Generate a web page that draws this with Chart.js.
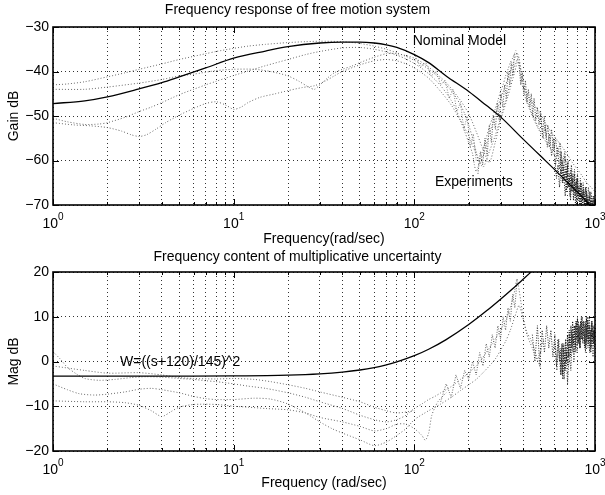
<!DOCTYPE html>
<html><head><meta charset="utf-8">
<script src="https://cdn.jsdelivr.net/npm/chart.js@4.4.1/dist/chart.umd.min.js"></script>
<style>
html,body{margin:0;padding:0;background:#fff;overflow:hidden;width:605px;height:495px}
canvas{position:absolute;left:0}
#top{top:0}
#bot{top:248px}
</style></head><body>
<canvas id="top" width="605" height="248"></canvas>
<canvas id="bot" width="605" height="247"></canvas>
<script>
// ---------- axis ticks ----------
const xTickValues = [1,2,3,4,5,6,7,8,9,10,20,30,40,50,60,70,80,90,100,200,300,400,500,600,700,800,900,1000];
const decadeValues = [1,10,100,1000];
const decadeExponents = ['0','1','2','3'];

// ---------- top: nominal model ----------
const nomFreq = [1,1.5,2,3,4,5,7,10,15,20,30,40,50,60,70,80,100,120,150,200,250,300,400,500,600,700,800,900,1000];
const nomGain = [-47.2,-46.6,-45.7,-43.9,-42.5,-41.2,-39.2,-37.0,-35.4,-34.4,-33.6,-33.4,-33.4,-33.6,-34.0,-34.6,-36.2,-38.0,-41.0,-44.5,-47.6,-50.2,-55.2,-59.0,-62.1,-64.8,-67.1,-69.2,-71.0];

// ---------- top: experiments ----------
const exp1Freq = [1,1.2,1.5,2,2.5,3,4,5,6,7,8,10,12,15,20,25,30,40,50,60,70,80,90,100,110,120,130,140,150,160,170,180,190,200,210,220,230,240,250,260,270,280,290,300,310,320,330,340,350,360,370,380,390,400,420,440,460,480,500,520,550,580,620,660,700,750,800,850,900,950,1000];
const exp1Gain = [-43.0,-42.8,-42.3,-41.2,-40.3,-39.5,-38.3,-37.3,-36.6,-36.0,-35.5,-34.8,-34.3,-33.9,-33.5,-33.3,-33.2,-33.3,-33.7,-34.3,-35.0,-35.8,-36.6,-37.5,-38.4,-39.5,-40.6,-41.8,-43.0,-44.3,-45.8,-47.5,-49.5,-52.0,-55.0,-58.0,-60.5,-59.0,-56.5,-54.0,-52.0,-50.0,-48.0,-46.0,-44.5,-43.0,-41.5,-40.0,-38.5,-37.0,-35.8,-37.0,-40.0,-42.5,-45.0,-46.5,-47.5,-48.5,-49.5,-51.0,-52.5,-54.0,-55.5,-57.0,-58.5,-60.5,-62.0,-63.5,-65.0,-66.0,-67.0];
const exp2Freq = [1,1.2,1.5,1.8,2,2.5,3,3.5,4,5,6,7,8,9,10,12,15,20,25,30,40,50,60,70,80,90,100,110,120,130,140,150,160,170,180,190,200,210,215,220,225,230,240,250,260,270,280,290,300,310,320,330,340,350,360,365,380,400,420,450,480,520,560,600,650,700,800,900,1000];
const exp2Gain = [-50.5,-51.3,-51.9,-51.8,-51.5,-50.3,-49.0,-48.0,-47.0,-45.2,-44.0,-43.0,-42.2,-41.5,-40.9,-39.9,-38.7,-37.3,-36.2,-35.5,-34.7,-34.6,-35.0,-35.6,-36.3,-37.2,-38.2,-39.3,-40.5,-41.8,-43.2,-44.8,-46.5,-48.5,-51.0,-53.5,-56.0,-58.5,-61.0,-62.5,-61.5,-60.0,-57.5,-55.0,-52.5,-50.5,-48.5,-46.5,-44.5,-43.0,-41.0,-39.5,-38.0,-37.0,-35.8,-35.3,-39.0,-44.0,-47.0,-50.0,-52.5,-55.0,-57.0,-59.0,-61.0,-63.0,-65.5,-67.5,-69.0];
const exp3Freq = [1,1.3,1.6,2,2.4,2.7,3,3.3,3.7,4.2,5,6,7,8,9,10,11,12,14,17,20,24,28,32,36,40,50,60,70,80,90,100,120,140,160,180,200,220,240,260,280,300,320,340,360,380];
const exp3Gain = [-51.5,-52.0,-52.2,-52.6,-53.4,-54.2,-54.6,-54.2,-53.0,-51.5,-49.8,-48.3,-47.2,-46.8,-47.5,-48.5,-48.0,-47.0,-45.8,-45.0,-44.3,-43.6,-43.2,-42.2,-41.0,-40.0,-38.5,-37.6,-37.3,-37.6,-38.3,-39.2,-41.5,-44.5,-47.5,-51.0,-54.5,-58.5,-61.5,-58.0,-54.5,-50.5,-46.5,-42.5,-38.5,-36.5];
const exp4Freq = [1,1.5,2,3,4,5,6,8,10,13,16,20,23,26,28,30,33,36,40,45,50,60,70,80,100,120,150,180,200,220,240,260,280,300,330,360,375,390,410,430,460,500];
const exp4Gain = [-44.0,-44.0,-43.5,-42.6,-41.8,-41.0,-40.6,-39.8,-39.5,-39.5,-40.0,-41.0,-42.2,-43.5,-44.0,-43.0,-41.5,-40.3,-39.5,-38.8,-38.0,-36.8,-36.0,-36.0,-37.0,-39.0,-42.5,-46.5,-49.5,-53.5,-57.5,-60.5,-56.0,-51.0,-45.5,-40.0,-37.5,-40.0,-44.5,-47.5,-50.5,-53.5];
const bandDownFreq = [100,108,116,124,132,140,148,156,164,172,180,188,196,204,212,220];
const bandDownGain = [-36,-39,-38,-41,-40,-43,-42,-46,-44,-49,-47,-53,-50,-57,-54,-60];
const bandUpFreq = [225,232,239,246,253,260,267,274,281,288,295,302,309,316,323,330,337,344,351,358];
const bandUpGain = [-63,-58,-61,-55,-59,-52,-56,-50,-53,-47,-51,-45,-48,-43,-46,-40,-43,-38,-41,-36];
const branchFreq = [380,388,396,404,412,420,428,436,444,452,460,470,480,490,500,512,524,536,548,560,575,590,605,620,640,660,680,700];
const branchGain = [-38,-43,-40,-45,-42,-47,-44,-48,-45,-50,-46,-51,-48,-52,-49,-54,-50,-55,-52,-57,-53,-58,-55,-59,-56,-61,-58,-62];
const cloudAFreq = [500,515,530,545,560,575,590,605,620,635,650,665,680,695,710,725,740,755,770,785,800,815,830,845,860,875,890,905,920,935,950,965,980,995];
const cloudAGain = [-50,-55,-52,-57,-54,-59,-55,-61,-57,-62,-58,-63,-59,-64,-60,-66,-61,-65,-62,-67,-63,-68,-64,-69,-65,-68,-66,-70,-66,-69,-67,-70,-68,-70];
const cloudBFreq = [600,612,624,636,648,660,672,684,696,708,720,732,744,756,768,780,792,804,816,828,840,852,864,876,888,900,912,924,936,948,960,972,984,996];
const cloudBGain = [-60,-64,-61,-66,-62,-65,-63,-68,-62,-66,-64,-69,-63,-67,-65,-70,-64,-68,-66,-70,-65,-69,-67,-70,-66,-70,-68,-70,-67,-70,-69,-70,-68,-70];
const cloudGFreq = [640,648,656,664,672,680,688,696,704,712,720,728,736,744,752,760,768,776,784,792,800,808,816,824,832,840,848,856,864,872,880,888,896,904,912,920,928,936,944,952,960,968,976,984,992,1000];
const cloudGGain = [-58,-63,-60,-65,-61,-64,-62,-67,-61,-66,-63,-68,-62,-67,-64,-69,-63,-68,-65,-70,-64,-69,-66,-70,-65,-70,-67,-70,-66,-70,-68,-70,-67,-70,-69,-70,-68,-70,-69,-70,-68,-70,-69,-70,-69,-70];

// ---------- bottom: weight W ----------
const wFreq = [1,5,10,20,30,40,50,60,70,80,100,120,150,200,250,300,350,400,450];
const wMag = [-3.29,-3.27,-3.23,-3.05,-2.76,-2.37,-1.90,-1.35,-0.74,-0.08,1.29,2.73,4.89,8.26,11.26,13.92,16.27,18.38,20.27];

// ---------- bottom: uncertainty experiments ----------
const unc1Freq = [1,1.1,1.2,1.35,1.5,1.8,2.2,2.7,3.3,4,5,6,7,8,10,12,15,20,25,30,40,50,60,70,80,90,100,110,120,130,140,150,160,170,180,190,200,210,220,230,240,250,260,270,280,290,300,310,320,330,340,350,360,370,380,390,400,410,420,440,460,480,500];
const unc1Mag = [2.2,0.5,-1.3,-2.8,-3.8,-4.2,-4.0,-3.6,-3.4,-3.5,-3.8,-4.0,-4.3,-4.5,-5.0,-5.5,-6.0,-7.0,-8.0,-9.0,-10.5,-12.0,-13.0,-13.5,-13.0,-12.0,-10.5,-9.5,-8.5,-7.8,-7.0,-6.3,-5.6,-4.8,-4.0,-3.3,-2.6,-1.8,-1.0,0.0,1.0,2.0,3.0,4.0,5.0,6.0,7.0,8.0,9.0,10.5,12.0,14.0,16.0,18.5,16.0,13.0,10.0,8.0,6.5,5.0,3.0,0.5,-1.5];
const unc2Freq = [1,1.2,1.4,1.7,2,2.5,3,3.5,4,5,6,7,8,10,13,16,20,25,30,35,40,50,60,70,80,90,100,120,140,160,180,200,220,240,260,280,300,320,340,360,380,400,420,450,480,500,520];
const unc2Mag = [-5.0,-6.3,-7.2,-7.5,-7.3,-6.8,-6.2,-6.0,-6.3,-7.0,-7.8,-8.3,-8.5,-8.5,-8.2,-8.4,-9.5,-11.5,-13.5,-15.0,-16.0,-17.5,-18.8,-18.0,-16.5,-15.0,-13.0,-11.0,-9.5,-8.0,-6.5,-5.2,-4.0,-2.5,-1.0,0.5,2.5,4.5,7.0,10.0,12.5,9.5,6.0,3.0,0.5,2.5,5.0];
const unc3Freq = [1,1.5,2,2.5,3,3.5,4,4.5,5,6,8,10,12,15,20,25,30,40,50,60,70,80,90,100,110,115,120,125,135,150];
const unc3Mag = [-8.8,-9.0,-9.0,-9.2,-9.8,-11.0,-12.3,-11.2,-10.2,-9.6,-9.6,-10.0,-10.2,-10.5,-10.8,-11.5,-12.5,-13.5,-14.5,-15.5,-15.0,-14.0,-14.0,-15.0,-16.5,-17.6,-16.0,-12.0,-9.0,-7.0];
const unc4Freq = [1,1.5,2,3,4,5,6,8,10,13,16,20,25,30,40,50,60,70,80,100];
const unc4Mag = [-1.0,-2.0,-2.6,-2.5,-3.0,-3.6,-3.8,-3.9,-3.8,-4.0,-4.5,-5.2,-6.0,-6.8,-8.0,-9.0,-10.2,-11.0,-11.5,-11.0];
const riseFreq = [140,150,160,170,180,190,200,210,220,230,240,250,260,270,280,290,300,310,320,330,340,350,360,370];
const riseMag = [-9,-5,-8,-3,-6,-2,-4,0,-3,2,-1,4,1,6,3,8,5,10,7,12,9,15,12,18];
const cloudCFreq = [450,465,480,495,510,525,540,555,570,585,600,615,630,645,660,675,690,705,720,735,750,765,780,795,810,825,840,855,870,885,900,915,930,945,960,975,990,1000];
const cloudCMag = [6,0,8,-1,7,2,8,3,7,1,6,-2,5,-3,4,-4,3,-5,2,-2,6,0,8,2,9,3,10,4,9,2,8,3,10,4,9,1,8,5];
const cloudDFreq = [600,612,624,636,648,660,672,684,696,708,720,732,744,756,768,780,792,804,816,828,840,852,864,876,888,900,912,924,936,948,960,972,984,996];
const cloudDMag = [4,-1,5,0,3,-3,4,-2,2,-1,6,1,7,2,8,3,9,4,8,3,9,5,7,3,9,4,10,5,8,2,9,4,7,3];
const cloudFFreq = [640,648,656,664,672,680,688,696,704,712,720,728,736,744,752,760,768,776,784,792,800,808,816,824,832,840,848,856,864,872,880,888,896,904,912,920,928,936,944,952,960,968,976,984,992,1000];
const cloudFMag = [2,-3,4,-4,3,-2,5,0,6,1,7,2,8,3,9,4,8,2,9,5,10,4,8,3,9,5,10,6,9,4,8,3,10,5,9,4,8,2,7,3,9,5,8,4,7,5];

// ---------- helpers ----------
const FONT = "'Liberation Sans', Arial, Helvetica, sans-serif";
const pts = (xs, ys) => xs.map((x, i) => ({x, y: ys[i]}));
const minus = v => (v < 0 ? '\u2212' + Math.abs(v) : String(v));

function solid(xs, ys) {
  return {data: pts(xs, ys), borderColor: '#000', borderWidth: 1.3, pointRadius: 0,
          cubicInterpolationMode: 'monotone', order: 0};
}
function dotted(xs, ys, color) {
  return {data: pts(xs, ys), borderColor: color || '#6a6a6a', borderWidth: 1, pointRadius: 0,
          borderDash: [1, 2], tension: 0.25, order: 1};
}
function cloud(xs, ys, color) {
  return {data: pts(xs, ys), borderColor: color, borderWidth: 1, pointRadius: 0,
          borderDash: [1, 1.5], tension: 0, order: 2};
}

const frame = {
  id: 'frame',
  afterDraw(chart, args, o) {
    const {ctx, chartArea: a, scales: {x, y}} = chart;
    ctx.save();
    ctx.strokeStyle = '#000';
    ctx.lineWidth = 1;
    ctx.beginPath();
    x.ticks.forEach(t => {
      const px = Math.round(x.getPixelForValue(t.value)) + 0.5;
      const len = decadeValues.includes(t.value) ? 6 : 3;
      ctx.moveTo(px, a.bottom); ctx.lineTo(px, a.bottom - len);
      ctx.moveTo(px, a.top); ctx.lineTo(px, a.top + len);
    });
    y.ticks.forEach(t => {
      const py = Math.round(y.getPixelForValue(t.value)) + 0.5;
      ctx.moveTo(a.left, py); ctx.lineTo(a.left + 6, py);
      ctx.moveTo(a.right, py); ctx.lineTo(a.right - 6, py);
    });
    ctx.stroke();
    ctx.lineWidth = 1.6;
    ctx.strokeRect(a.left, a.top, a.right - a.left, a.bottom - a.top);
    ctx.fillStyle = '#000';
    ctx.textBaseline = 'alphabetic';
    ctx.textAlign = 'left';
    const base = a.bottom + o.labelDrop;
    decadeValues.forEach((v, i) => {
      const px = x.getPixelForValue(v);
      ctx.font = '14px ' + FONT;
      const w1 = ctx.measureText('10').width;
      ctx.font = '10px ' + FONT;
      const w2 = ctx.measureText(decadeExponents[i]).width;
      const start = px - (w1 + w2) / 2;
      ctx.font = '14px ' + FONT;
      ctx.fillText('10', start, base);
      ctx.font = '10px ' + FONT;
      ctx.fillText(decadeExponents[i], start + w1, base - 8);
    });
    ctx.font = '14px ' + FONT;
    ctx.textBaseline = 'middle';
    (o.notes || []).forEach(n => {
      ctx.fillText(n.text, x.getPixelForValue(n.x), y.getPixelForValue(n.y));
    });
    ctx.restore();
  }
};

function options(cfg) {
  const gridStyle = {color: '#333', lineWidth: 1, drawTicks: false};
  return {
    responsive: false, animation: false, devicePixelRatio: 1,
    layout: {padding: {left: 0, right: 10, top: 0, bottom: 0}},
    plugins: {
      legend: {display: false}, tooltip: {enabled: false},
      title: {display: true, text: cfg.title, color: '#000',
              font: {family: FONT, size: 14, weight: 'normal'}, padding: cfg.titlePad},
      frame: {labelDrop: 22.5, notes: cfg.notes}
    },
    scales: {
      x: {
        type: 'logarithmic', min: 1, max: 1000,
        afterBuildTicks: s => { s.ticks = xTickValues.map(v => ({value: v})); },
        afterFit: s => { s.height = cfg.xHeight; },
        ticks: {display: false},
        grid: gridStyle,
        border: {display: false, dash: [1, 3]},
        title: {display: true, text: cfg.xTitle, color: '#000',
                font: {family: FONT, size: 14}, padding: {top: 0, bottom: cfg.xTitleBottom}}
      },
      y: {
        min: cfg.yMin, max: cfg.yMax,
        afterFit: s => { s.width = 53; },
        ticks: {stepSize: 10, padding: 4, color: '#000', font: {family: FONT, size: 14},
                callback: v => minus(v)},
        grid: gridStyle,
        border: {display: false, dash: [1, 3]},
        title: {display: true, text: cfg.yTitle, color: '#000',
                font: {family: FONT, size: 14}, padding: {top: 5.6, bottom: 0}}
      }
    }
  };
}

new Chart(document.getElementById('top'), {
  type: 'line',
  data: {datasets: [
    solid(nomFreq, nomGain),
    dotted(exp1Freq, exp1Gain),
    dotted(exp2Freq, exp2Gain),
    dotted(exp3Freq, exp3Gain),
    dotted(exp4Freq, exp4Gain),
    cloud(bandDownFreq, bandDownGain, '#888'),
    cloud(bandUpFreq, bandUpGain, '#555'),
    cloud(branchFreq, branchGain, '#444'),
    cloud(cloudAFreq, cloudAGain, '#333'),
    cloud(cloudBFreq, cloudBGain, '#111'),
    cloud(cloudGFreq, cloudGGain, '#000')
  ]},
  options: options({
    title: 'Frequency response of free motion system',
    titlePad: {top: 1.6, bottom: 8.6},
    xTitle: 'Frequency(rad/sec)', xTitleBottom: 0, xHeight: 43,
    yTitle: 'Gain dB', yMin: -70, yMax: -30,
    notes: [{text: 'Nominal Model', x: 98, y: -33.1}, {text: 'Experiments', x: 130, y: -64.8}]
  }),
  plugins: [frame]
});

new Chart(document.getElementById('bot'), {
  type: 'line',
  data: {datasets: [
    solid(wFreq, wMag),
    dotted(unc1Freq, unc1Mag),
    dotted(unc2Freq, unc2Mag),
    dotted(unc3Freq, unc3Mag),
    dotted(unc4Freq, unc4Mag),
    cloud(riseFreq, riseMag, '#666'),
    cloud(cloudCFreq, cloudCMag, '#333'),
    cloud(cloudDFreq, cloudDMag, '#111'),
    cloud(cloudFFreq, cloudFMag, '#000')
  ]},
  options: options({
    title: 'Frequency content of multiplicative uncertainty',
    titlePad: {top: 0.6, bottom: 6.6},
    xTitle: 'Frequency (rad/sec)', xTitleBottom: 3.6, xHeight: 44,
    yTitle: 'Mag dB', yMin: -20, yMax: 20,
    notes: [{text: 'W=((s+120)/145)^2', x: 2.35, y: -0.1}]
  }),
  plugins: [frame]
});
</script></body></html>
